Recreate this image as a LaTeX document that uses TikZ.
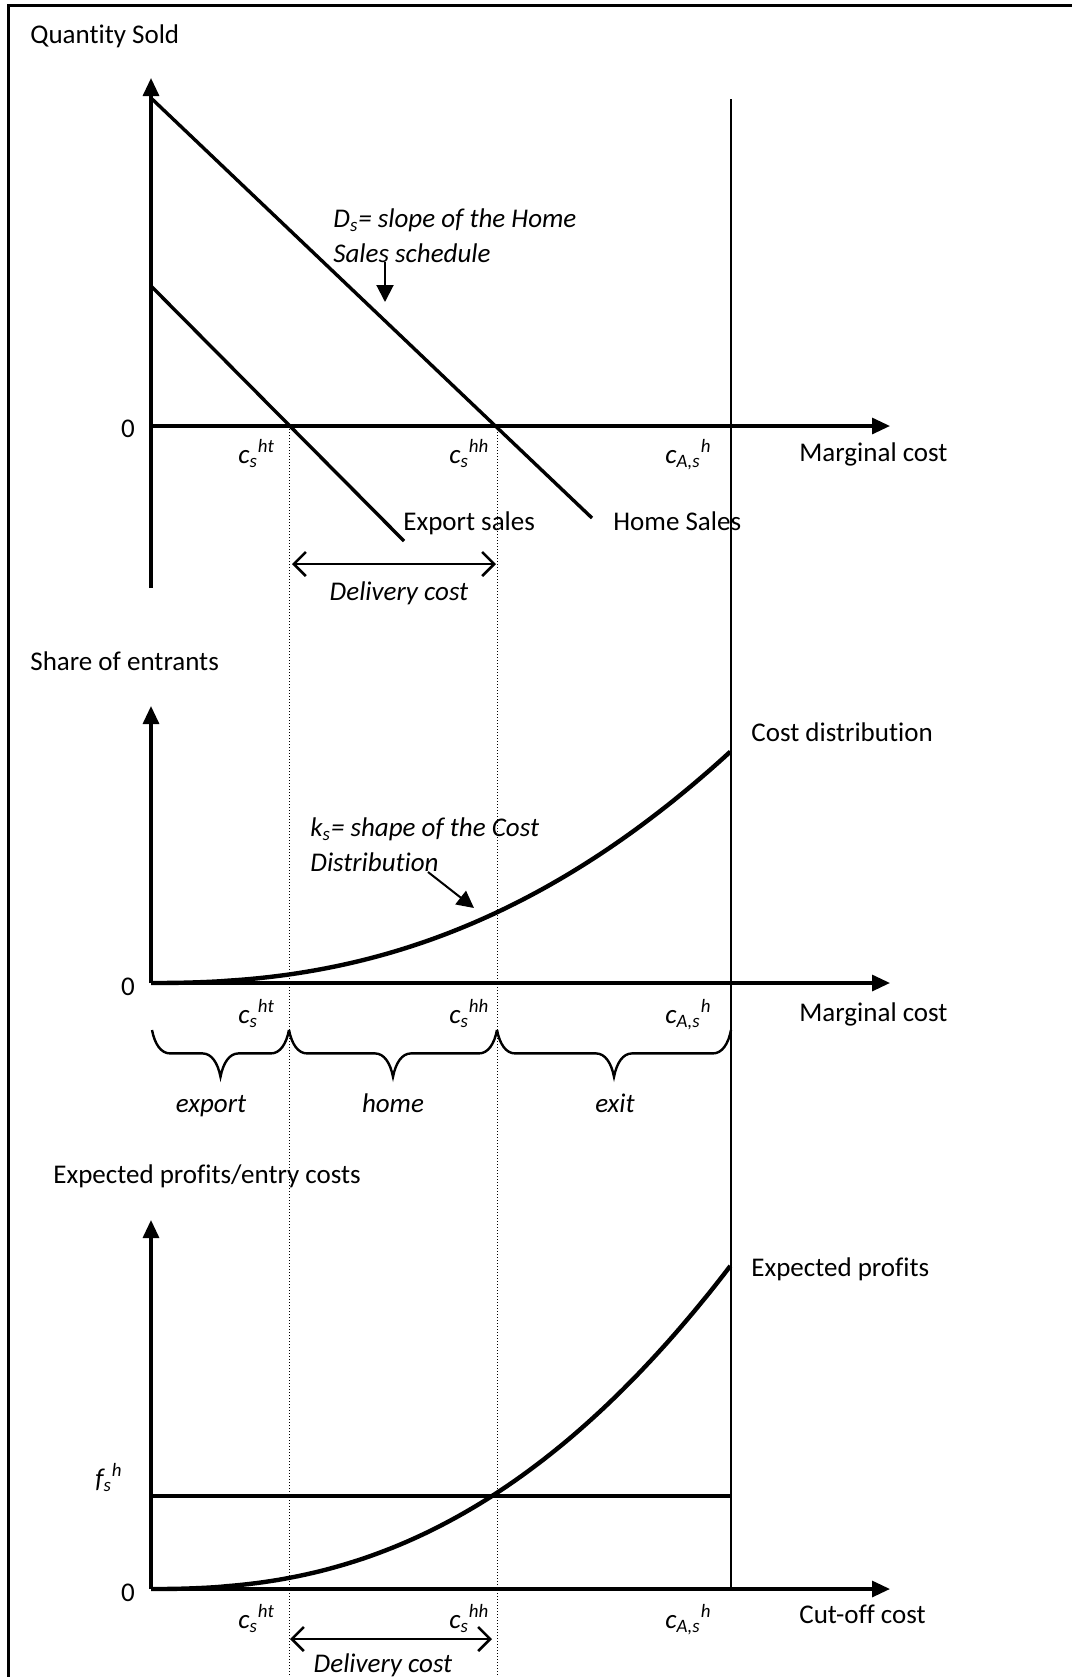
\documentclass[tikz,border=0pt]{standalone}
\usepackage{fontspec}
\setmainfont[Ligatures=NoCommon]{Carlito}
\usetikzlibrary{arrows.meta,decorations.pathreplacing}
\pgfdeclarelayer{bg}
\pgfsetlayers{bg,main}
\tikzset{
    every node/.style={inner sep=0pt, font=\fontsize{13.5pt}{17.5pt}\selectfont},
    txt/.style={anchor=base west},
    note/.style={anchor=base west, align=left,
    	font=\fontsize{13.5pt}{17.5pt}\selectfont\itshape},
    axis/.style={line width=1.6pt, -{Triangle[length=9pt,width=8pt]}},
    sched/.style={line width=1.7pt},
    curve/.style={line width=2.2pt},
    guide/.style={line width=0.5pt, densely dotted},
    cutoff/.style={line width=0.6pt},
    pointer/.style={line width=1pt, -{Triangle[length=8.5pt,width=8.5pt]}},
    span/.style={line width=1.3pt,
    	{Straight Barb[length=6pt,width=12pt]}-{Straight Barb[length=6pt,width=12pt]}},
    region/.style={line width=1.2pt, decorate,
    	decoration={brace, mirror, amplitude=9pt, transform={yscale=2.6}}}
}
\newcommand{\costlab}[2]{\textit{c\textsubscript{#1}\textsuperscript{#2}}}

\begin{document}
\begin{tikzpicture}[x=0.5pt, y=-0.5pt]
  \useasboundingbox (0,0) rectangle (1072,1677);

  \coordinate (f1) at (8,1677);
  \coordinate (f2) at (8,5);
  \coordinate (f3) at (1072,5);
  \draw[line width=1.5pt] (f1) -- (f2) -- (f3);

  % quantity sold
  \coordinate (o1) at (151,426);
  \coordinate (y1t) at (151,78);
  \coordinate (y1b) at (151,588);
  \coordinate (x1) at (890,426);
  \coordinate (h1) at (151,98);
  \coordinate (h2) at (592,518);
  \coordinate (e1) at (151,286);
  \coordinate (e2) at (404,541);
  \coordinate (ds1) at (385,262);
  \coordinate (ds2) at (385,302);
  \coordinate (d1) at (292,564);
  \coordinate (d2) at (496,564);

  \node (qs) [txt] at (30,43) {Quantity Sold};
  \node (z1) [anchor=base] at (128,437) {0};
  \node (ht1) [txt] at (238,463) {\costlab{s}{ht}};
  \node (hh1) [txt] at (449,463) {\costlab{s}{hh}};
  \node (as1) [txt] at (665,463) {\costlab{A,s}{h}};
  \node (mc1) [txt] at (799,461) {Marginal cost};
  \node (ds) [note] at (333,262) {D\textsubscript{s}= slope of the Home\\Sales schedule};
  \node (es) [txt] at (403,530) {Export sales};
  \node (hs) [txt] at (613,530) {Home Sales};
  \node (dc1) [anchor=base, font=\fontsize{13.5pt}{17.5pt}\selectfont\itshape]
  	at (399,600) {Delivery cost};

  \draw[axis] (y1b) -- (y1t);
  \draw[axis] (o1) -- (x1);
  \draw[sched] (h1) -- (h2);
  \draw[sched] (e1) -- (e2);
  \draw[pointer] (ds1) -- (ds2);
  \draw[span] (d1) -- (d2);

  % share of entrants
  \coordinate (o2) at (151,983);
  \coordinate (y2t) at (151,706);
  \coordinate (x2) at (890,983);
  \coordinate (k1) at (428,872);
  \coordinate (k2) at (474,908);
  \coordinate (b0) at (152,1030);
  \coordinate (b1) at (289,1030);
  \coordinate (b2) at (497,1030);
  \coordinate (b3) at (731,1030);

  \node (se) [txt] at (30,670) {Share of entrants};
  \node (z2) [anchor=base] at (128,995) {0};
  \node (ht2) [txt] at (238,1023) {\costlab{s}{ht}};
  \node (hh2) [txt] at (449,1023) {\costlab{s}{hh}};
  \node (as2) [txt] at (665,1023) {\costlab{A,s}{h}};
  \node (mc2) [txt] at (799,1021) {Marginal cost};
  \node (cd) [txt] at (751,741) {Cost distribution};
  \node (ks) [note] at (310,871) {k\textsubscript{s}= shape of the Cost\\Distribution};
  \node (ex) [anchor=base, font=\fontsize{13.5pt}{17.5pt}\selectfont\itshape]
  	at (211,1112) {export};
  \node (hm) [anchor=base, font=\fontsize{13.5pt}{17.5pt}\selectfont\itshape]
  	at (393,1112) {home};
  \node (xt) [anchor=base, font=\fontsize{13.5pt}{17.5pt}\selectfont\itshape]
  	at (615,1112) {exit};

  \draw[axis] (o2) -- (y2t);
  \draw[axis] (o2) -- (x2);
  \draw[curve] (o2) -- plot[domain=0.02:1, samples=80]
  	({151+580*\x}, {983-232*\x^2.3});
  \draw[pointer] (k1) -- (k2);
  \draw[region] (b0) -- (b1);
  \draw[region] (b1) -- (b2);
  \draw[region] (b2) -- (b3);

  % expected profits
  \coordinate (o3) at (151,1589);
  \coordinate (y3t) at (151,1220);
  \coordinate (x3) at (890,1589);
  \coordinate (n1) at (151,1496);
  \coordinate (n2) at (731,1496);
  \coordinate (d3) at (290,1639);
  \coordinate (d4) at (492,1639);

  \node (ep) [txt] at (53,1183) {Expected profits/entry costs};
  \node (z3) [anchor=base] at (128,1601) {0};
  \node (fs) [txt] at (95,1487) {\textit{f\textsubscript{s}\textsuperscript{h}}};
  \node (ht3) [txt] at (238,1628) {\costlab{s}{ht}};
  \node (hh3) [txt] at (449,1628) {\costlab{s}{hh}};
  \node (as3) [txt] at (665,1628) {\costlab{A,s}{h}};
  \node (co) [txt] at (799,1623) {Cut-off cost};
  \node (prof) [txt] at (751,1276) {Expected profits};
  \node (dc2) [anchor=base, font=\fontsize{13.5pt}{17.5pt}\selectfont\itshape]
  	at (383,1672) {Delivery cost};

  \draw[axis] (o3) -- (y3t);
  \draw[axis] (o3) -- (x3);
  \draw[sched] (n1) -- (n2);
  \draw[curve] (o3) -- plot[domain=0.02:1, samples=80]
  	({151+580*\x}, {1589-324*\x^2.35});
  \draw[span] (d3) -- (d4);

  \coordinate (g1t) at (289,426);
  \coordinate (g1b) at (289,1677);
  \coordinate (g2t) at (497,426);
  \coordinate (g2b) at (497,1677);
  \coordinate (g3t) at (731,99);
  \coordinate (g3b) at (731,1589);

  \begin{pgfonlayer}{bg}
	  \draw[guide] (g1t) -- (g1b);
	  \draw[guide] (g2t) -- (g2b);
	  \draw[cutoff] (g3t) -- (g3b);
  \end{pgfonlayer}

\end{tikzpicture}
\end{document}
